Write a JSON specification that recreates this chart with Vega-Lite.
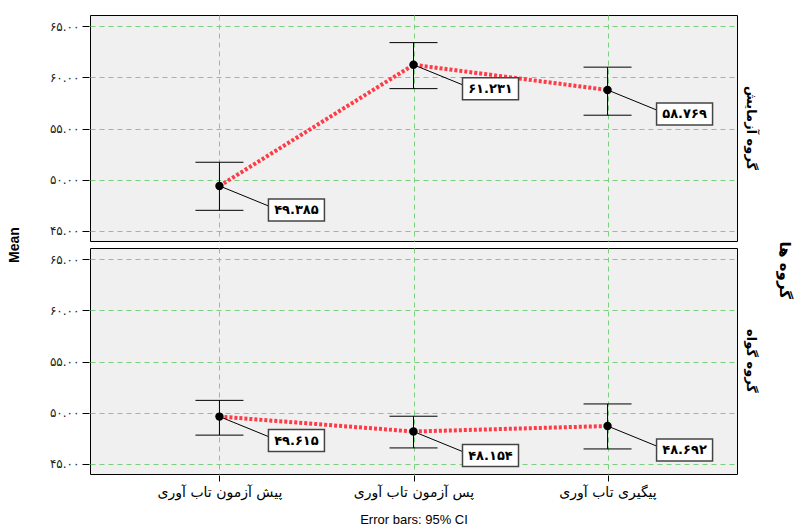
{
  "$schema": "https://vega.github.io/schema/vega-lite/v6.json",
  "padding": {"left": 8, "top": 14, "right": 5, "bottom": 5},
  "background": "white",
  "title": {"text": "گروه ها", "orient": "right", "anchor": "middle", "angle": 90, "font": "DejaVu Sans", "fontSize": 15, "fontWeight": "bold", "color": "black", "offset": 20},
  "data": {"values": [
    {"group": "گروه آزمایش", "phase": "پیش آزمون تاب آوری", "idx": 1, "mean": 49.385, "lo": 47.0, "hi": 51.7, "label": "۴۹.۳۸۵"},
    {"group": "گروه آزمایش", "phase": "پس آزمون تاب آوری", "idx": 2, "mean": 61.231, "lo": 58.9, "hi": 63.4, "label": "۶۱.۲۳۱"},
    {"group": "گروه آزمایش", "phase": "پیگیری تاب آوری", "idx": 3, "mean": 58.769, "lo": 56.3, "hi": 61.0, "label": "۵۸.۷۶۹"},
    {"group": "گروه گواه", "phase": "پیش آزمون تاب آوری", "idx": 1, "mean": 49.615, "lo": 47.8, "hi": 51.2, "label": "۴۹.۶۱۵"},
    {"group": "گروه گواه", "phase": "پس آزمون تاب آوری", "idx": 2, "mean": 48.154, "lo": 46.55, "hi": 49.65, "label": "۴۸.۱۵۴"},
    {"group": "گروه گواه", "phase": "پیگیری تاب آوری", "idx": 3, "mean": 48.692, "lo": 46.45, "hi": 50.85, "label": "۴۸.۶۹۲"}
  ]},
  "facet": {
    "row": {
      "field": "group", "type": "nominal",
      "sort": ["گروه آزمایش", "گروه گواه"],
      "header": {
        "labelOrient": "right", "labelAngle": 90, "labelFont": "DejaVu Sans", "labelFontSize": 13, "labelFontWeight": "bold", "labelColor": "black", "labelPadding": 6,
        "title": "Mean", "titleOrient": "left", "titleAngle": -90, "titleFont": "Liberation Sans", "titleFontSize": 14, "titleFontWeight": "bold", "titleColor": "black", "titlePadding": 3
      }
    }
  },
  "spacing": 5,
  "spec": {
    "width": 647,
    "height": 226,
    "encoding": {
      "x": {
        "field": "phase", "type": "nominal",
        "sort": ["پیش آزمون تاب آوری", "پس آزمون تاب آوری", "پیگیری تاب آوری"],
        "scale": {"type": "point", "padding": 0.667},
        "axis": {
          "title": "Error bars: 95% CI", "titleFont": "Liberation Sans", "titleFontSize": 13, "titleFontWeight": "normal", "titleColor": "black", "titlePadding": 14,
          "labelFont": "DejaVu Sans", "labelFontSize": 14, "labelColor": "black", "labelAngle": 0, "labelPadding": 4,
          "domain": false, "tickColor": "black", "tickSize": 6,
          "grid": true, "gridColor": "#7ccf7c", "gridDash": [5, 4], "gridWidth": 1
        }
      }
    },
    "layer": [
      {
        "mark": {"type": "rule", "color": "black", "strokeWidth": 1},
        "encoding": {
          "y": {"field": "lo", "type": "quantitative",
            "scale": {"domain": [44, 66.1], "nice": false, "zero": false},
            "axis": {
              "title": null, "values": [45, 50, 55, 60, 65],
              "labelExpr": "datum.value == 45 ? '۴۵.۰۰' : datum.value == 50 ? '۵۰.۰۰' : datum.value == 55 ? '۵۵.۰۰' : datum.value == 60 ? '۶۰.۰۰' : '۶۵.۰۰'",
              "labelFont": "DejaVu Sans", "labelFontSize": 12, "labelColor": "#222222", "labelPadding": 3,
              "domain": false, "tickColor": "black", "tickSize": 7,
              "grid": true, "gridColor": "#7ccf7c", "gridDash": [5, 4], "gridWidth": 1
            }
          },
          "y2": {"field": "hi"}
        }
      },
      {
        "mark": {"type": "rule", "color": "black", "strokeWidth": 1, "xOffset": -24, "x2Offset": 24},
        "encoding": {
          "x2": {"field": "phase"},
          "y": {"field": "lo", "type": "quantitative"}
        }
      },
      {
        "mark": {"type": "rule", "color": "black", "strokeWidth": 1, "xOffset": -24, "x2Offset": 24},
        "encoding": {
          "x2": {"field": "phase"},
          "y": {"field": "hi", "type": "quantitative"}
        }
      },
      {
        "mark": {"type": "line", "color": "#ff3b47", "strokeWidth": 4, "strokeDash": [3, 2]},
        "encoding": {
          "y": {"field": "mean", "type": "quantitative"},
          "order": {"field": "idx", "type": "quantitative"}
        }
      },
      {
        "mark": {"type": "rule", "color": "black", "strokeWidth": 1, "x2Offset": 49, "y2Offset": 20},
        "encoding": {
          "x2": {"field": "phase"},
          "y": {"field": "mean", "type": "quantitative"},
          "y2": {"field": "mean"}
        }
      },
      {
        "mark": {"type": "circle", "color": "black", "opacity": 1, "size": 70},
        "encoding": {
          "y": {"field": "mean", "type": "quantitative"}
        }
      },
      {
        "mark": {"type": "rect", "fill": "white", "stroke": "#444444", "strokeWidth": 1.5, "xOffset": 49, "x2Offset": 105, "yOffset": 13, "y2Offset": 35},
        "encoding": {
          "x2": {"field": "phase"},
          "y": {"field": "mean", "type": "quantitative"},
          "y2": {"field": "mean"}
        }
      },
      {
        "mark": {"type": "text", "font": "DejaVu Sans", "fontSize": 13, "fontWeight": "bold", "color": "black", "align": "center", "baseline": "middle", "dx": 77, "dy": 24},
        "encoding": {
          "y": {"field": "mean", "type": "quantitative"},
          "text": {"field": "label"}
        }
      }
    ]
  },
  "config": {
    "view": {"fill": "#f0f0f0", "stroke": "black", "strokeWidth": 1}
  }
}
